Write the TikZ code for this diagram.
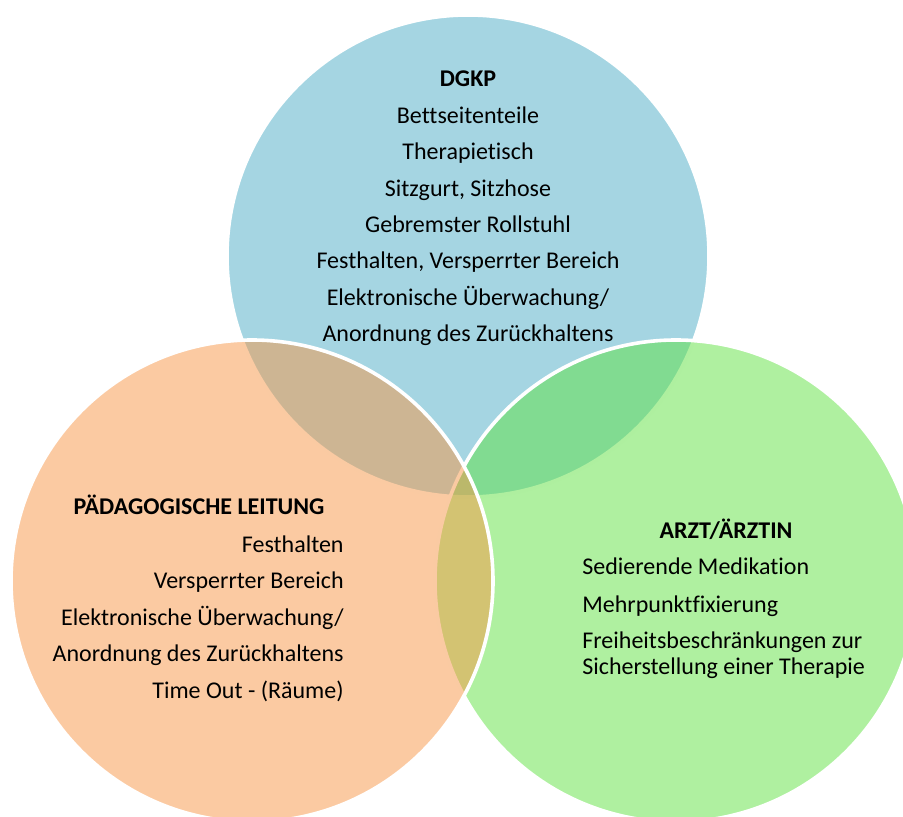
\documentclass[tikz,border=0pt]{standalone}
\usepackage{fontspec}
\setmainfont[Ligatures={NoCommon}]{Carlito}
\definecolor{dgkpblue}{HTML}{4BACC6}
\definecolor{paedorange}{HTML}{F79646}
\definecolor{arztgreen}{RGB}{95,225,65}
\begin{document}
\begin{tikzpicture}[x=0.5pt,y=-0.5pt,ring/.style={draw=white,line width=1.8pt,fill opacity=0.5},item/.style={inner sep=0pt,font=\fontsize{12}{14}\selectfont},head/.style={item,font=\fontsize{12}{14}\selectfont\bfseries}]
\def\r{120.5pt};
\def\dy{36.4};

\useasboundingbox (0,0) rectangle (903,817);
\clip (0,0) rectangle (903,817);

% circles: blue first, then green, orange on top
\draw[ring,fill=dgkpblue] (468,256) circle[radius=\r];
\draw[ring,fill=arztgreen] (676,581) circle[radius=\r];
\draw[ring,fill=paedorange] (252,581) circle[radius=\r];

% DGKP
\node[head,anchor=base] (dgkp) at (468,87) {DGKP};
\foreach \txt [count=\i] in {Bettseitenteile,Therapietisch,{Sitzgurt, Sitzhose},Gebremster Rollstuhl,{Festhalten, Versperrter Bereich},Elektronische Überwachung/,Anordnung des Zurückhaltens}
  \node[item,anchor=base] (dgkp\i) at (468,87+\i*\dy) {\txt};

% Paedagogische Leitung
\node[head,anchor=base] (paed) at (199,514) {PÄDAGOGISCHE LEITUNG};
\foreach \txt [count=\i] in {Festhalten,Versperrter Bereich,Elektronische Überwachung/,Anordnung des Zurückhaltens,Time Out - (Räume)}
  \node[item,anchor=base east] (paed\i) at (344,516+\i*\dy) {\txt};

% Arzt/Aerztin
\node[head,anchor=base] (arzt) at (726,538) {ARZT/ÄRZTIN};
\node[item,anchor=base west] (arzt1) at (582,574) {Sedierende Medikation};
\node[item,anchor=base west] (arzt2) at (582,612) {Mehrpunktfixierung};
\node[item,anchor=base west] (arzt3) at (582,648) {Freiheitsbeschränkungen zur};
\node[item,anchor=base west] (arzt4) at (582,674) {Sicherstellung einer Therapie};
\end{tikzpicture}
\end{document}
